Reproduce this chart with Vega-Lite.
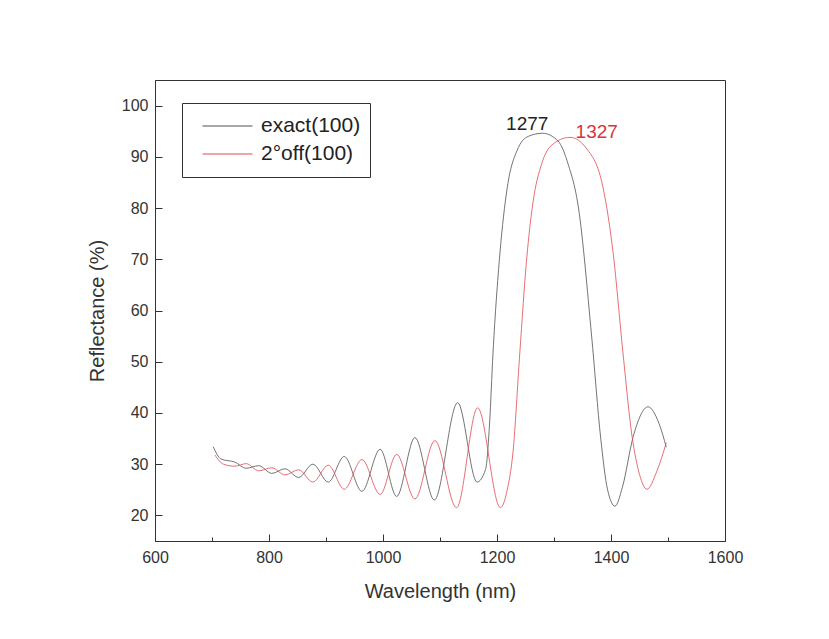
{
  "$schema": "https://vega.github.io/schema/vega-lite/v6.json",
  "width": 570,
  "height": 461,
  "autosize": {"type": "none"},
  "padding": {"left": 155, "top": 80, "right": 104, "bottom": 98},
  "background": "white",
  "config": {
    "font": "Liberation Sans",
    "view": {"stroke": "#333", "strokeWidth": 1},
    "axis": {
      "domainColor": "#333",
      "tickColor": "#333",
      "labelColor": "#333",
      "titleColor": "#333",
      "labelFont": "Liberation Sans",
      "titleFont": "Liberation Sans",
      "labelFontSize": 16,
      "titleFontSize": 20,
      "titleFontWeight": "normal",
      "grid": false,
      "ticks": true,
      "tickWidth": 1,
      "zindex": 1
    },
    "legend": {
      "orient": "none",
      "legendX": 27,
      "legendY": 23,
      "strokeColor": "#333",
      "strokeWidth": 1,
      "fillColor": "white",
      "padding": 9,
      "rowPadding": 0,
      "clipHeight": 28,
      "symbolType": "stroke",
      "symbolSize": 2500,
      "symbolStrokeWidth": 1,
      "symbolOffset": 11,
      "labelOffset": 8,
      "labelFontSize": 21,
      "labelFont": "Liberation Sans",
      "labelColor": "#222",
      "labelLimit": 300
    }
  },
  "datasets": {
    "curves": [
      {"wl": 702, "R": 33.4, "series": "exact(100)"},
      {"wl": 716, "R": 31.0, "series": "exact(100)"},
      {"wl": 740, "R": 30.4, "series": "exact(100)"},
      {"wl": 760, "R": 29.2, "series": "exact(100)"},
      {"wl": 782, "R": 29.7, "series": "exact(100)"},
      {"wl": 805, "R": 28.2, "series": "exact(100)"},
      {"wl": 828, "R": 29.1, "series": "exact(100)"},
      {"wl": 852, "R": 27.4, "series": "exact(100)"},
      {"wl": 877, "R": 30.0, "series": "exact(100)"},
      {"wl": 904, "R": 26.5, "series": "exact(100)"},
      {"wl": 932, "R": 31.5, "series": "exact(100)"},
      {"wl": 963, "R": 24.7, "series": "exact(100)"},
      {"wl": 995, "R": 32.9, "series": "exact(100)"},
      {"wl": 1024, "R": 23.7, "series": "exact(100)"},
      {"wl": 1056, "R": 35.2, "series": "exact(100)"},
      {"wl": 1090, "R": 23.0, "series": "exact(100)"},
      {"wl": 1131, "R": 42.0, "series": "exact(100)"},
      {"wl": 1165, "R": 26.5, "series": "exact(100)"},
      {"wl": 1180, "R": 29.0, "series": "exact(100)"},
      {"wl": 1187, "R": 38.0, "series": "exact(100)"},
      {"wl": 1193, "R": 51.7, "series": "exact(100)"},
      {"wl": 1205, "R": 71.0, "series": "exact(100)"},
      {"wl": 1218, "R": 84.0, "series": "exact(100)"},
      {"wl": 1235, "R": 91.2, "series": "exact(100)"},
      {"wl": 1255, "R": 94.0, "series": "exact(100)"},
      {"wl": 1280, "R": 94.6, "series": "exact(100)"},
      {"wl": 1307, "R": 93.1, "series": "exact(100)"},
      {"wl": 1325, "R": 88.5, "series": "exact(100)"},
      {"wl": 1343, "R": 80.0, "series": "exact(100)"},
      {"wl": 1366, "R": 55.0, "series": "exact(100)"},
      {"wl": 1382, "R": 35.0, "series": "exact(100)"},
      {"wl": 1394, "R": 25.0, "series": "exact(100)"},
      {"wl": 1407, "R": 21.8, "series": "exact(100)"},
      {"wl": 1420, "R": 25.5, "series": "exact(100)"},
      {"wl": 1439, "R": 35.4, "series": "exact(100)"},
      {"wl": 1465, "R": 41.2, "series": "exact(100)"},
      {"wl": 1484, "R": 38.0, "series": "exact(100)"},
      {"wl": 1497, "R": 33.3, "series": "exact(100)"},
      {"wl": 705, "R": 31.8, "series": "2°off(100)"},
      {"wl": 720, "R": 30.0, "series": "2°off(100)"},
      {"wl": 740, "R": 29.6, "series": "2°off(100)"},
      {"wl": 760, "R": 30.1, "series": "2°off(100)"},
      {"wl": 782, "R": 28.7, "series": "2°off(100)"},
      {"wl": 805, "R": 29.3, "series": "2°off(100)"},
      {"wl": 828, "R": 27.9, "series": "2°off(100)"},
      {"wl": 852, "R": 28.9, "series": "2°off(100)"},
      {"wl": 877, "R": 26.5, "series": "2°off(100)"},
      {"wl": 904, "R": 29.8, "series": "2°off(100)"},
      {"wl": 932, "R": 25.1, "series": "2°off(100)"},
      {"wl": 963, "R": 30.9, "series": "2°off(100)"},
      {"wl": 995, "R": 24.1, "series": "2°off(100)"},
      {"wl": 1024, "R": 31.9, "series": "2°off(100)"},
      {"wl": 1056, "R": 23.2, "series": "2°off(100)"},
      {"wl": 1091, "R": 34.6, "series": "2°off(100)"},
      {"wl": 1129, "R": 21.5, "series": "2°off(100)"},
      {"wl": 1166, "R": 41.0, "series": "2°off(100)"},
      {"wl": 1206, "R": 21.5, "series": "2°off(100)"},
      {"wl": 1218, "R": 25.0, "series": "2°off(100)"},
      {"wl": 1228, "R": 32.3, "series": "2°off(100)"},
      {"wl": 1240, "R": 51.7, "series": "2°off(100)"},
      {"wl": 1252, "R": 70.0, "series": "2°off(100)"},
      {"wl": 1263, "R": 81.0, "series": "2°off(100)"},
      {"wl": 1278, "R": 88.5, "series": "2°off(100)"},
      {"wl": 1295, "R": 92.2, "series": "2°off(100)"},
      {"wl": 1328, "R": 93.8, "series": "2°off(100)"},
      {"wl": 1358, "R": 91.5, "series": "2°off(100)"},
      {"wl": 1386, "R": 84.0, "series": "2°off(100)"},
      {"wl": 1404, "R": 71.0, "series": "2°off(100)"},
      {"wl": 1421, "R": 51.7, "series": "2°off(100)"},
      {"wl": 1437, "R": 35.4, "series": "2°off(100)"},
      {"wl": 1450, "R": 28.0, "series": "2°off(100)"},
      {"wl": 1463, "R": 25.1, "series": "2°off(100)"},
      {"wl": 1480, "R": 28.5, "series": "2°off(100)"},
      {"wl": 1497, "R": 34.2, "series": "2°off(100)"}
    ],
    "labels": [
      {"wl": 1253, "R": 96.4, "text": "1277", "series": "exact(100)"},
      {"wl": 1375, "R": 94.9, "text": "1327", "series": "2°off(100)"}
    ]
  },
  "layer": [
    {
      "data": {"name": "curves"},
      "mark": {"type": "line", "interpolate": "monotone", "strokeWidth": 0.8, "clip": true},
      "encoding": {
        "x": {
          "field": "wl", "type": "quantitative",
          "scale": {"domain": [600, 1600], "nice": false, "zero": false},
          "axis": {
            "title": "Wavelength (nm)",
            "values": [600, 700, 800, 900, 1000, 1100, 1200, 1300, 1400, 1500, 1600],
            "labelExpr": "datum.value % 200 === 0 ? datum.label : ''",
            "format": "d",
            "tickSize": {"condition": {"test": "datum.value % 200 === 0", "value": -7}, "value": -4},
            "labelPadding": 15,
            "titlePadding": 16,
            "labelFlush": false
          }
        },
        "y": {
          "field": "R", "type": "quantitative",
          "scale": {"domain": [15, 105], "nice": false, "zero": false},
          "axis": {
            "title": "Reflectance (%)",
            "values": [20, 25, 30, 35, 40, 45, 50, 55, 60, 65, 70, 75, 80, 85, 90, 95, 100],
            "labelExpr": "datum.value % 10 === 0 ? datum.label : ''",
            "tickSize": {"condition": {"test": "datum.value % 10 === 0", "value": -7}, "value": -4},
            "labelPadding": 14,
            "titlePadding": 14,
            "labelFlush": false
          }
        },
        "color": {
          "field": "series", "type": "nominal",
          "scale": {"domain": ["exact(100)", "2°off(100)"], "range": ["#505050", "#e04a50"]},
          "legend": {"title": null}
        }
      }
    },
    {
      "data": {"name": "labels"},
      "transform": [{"filter": "datum.series === 'exact(100)'"}],
      "mark": {"type": "text", "fontSize": 19, "font": "Liberation Sans", "align": "center", "baseline": "middle", "color": "#222"},
      "encoding": {
        "x": {"field": "wl", "type": "quantitative"},
        "y": {"field": "R", "type": "quantitative"},
        "text": {"field": "text"}
      }
    },
    {
      "data": {"name": "labels"},
      "transform": [{"filter": "datum.series === '2°off(100)'"}],
      "mark": {"type": "text", "fontSize": 19, "font": "Liberation Sans", "align": "center", "baseline": "middle", "color": "#d8343a"},
      "encoding": {
        "x": {"field": "wl", "type": "quantitative"},
        "y": {"field": "R", "type": "quantitative"},
        "text": {"field": "text"}
      }
    }
  ]
}
